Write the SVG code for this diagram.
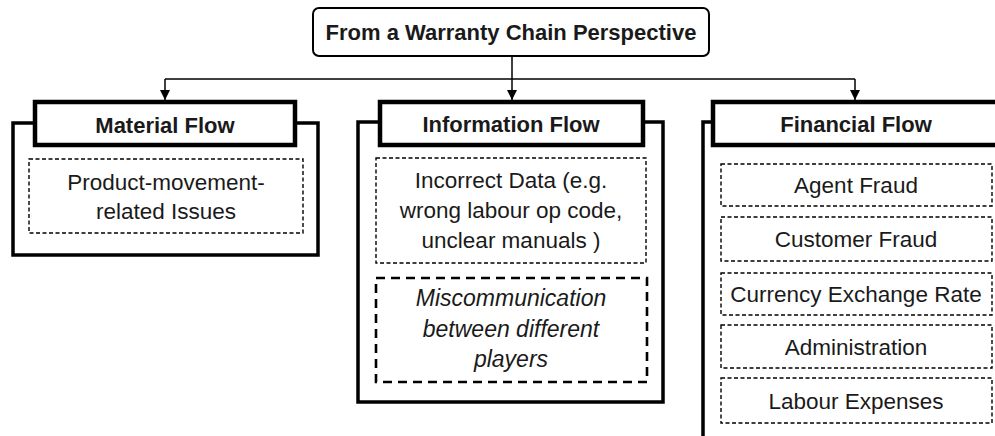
<svg xmlns="http://www.w3.org/2000/svg" width="995" height="436" viewBox="0 0 995 436">
<defs>
<style>
text{font-family:"Liberation Sans",Arial,sans-serif;fill:#1a1a1a;text-anchor:middle}
.h{font-weight:bold;font-size:22px}
.b{font-size:22.5px}
.i{font-size:23px;font-style:italic}
.outer{fill:#fff;stroke:#000;stroke-width:3.5}
.head{fill:#fff;stroke:#000;stroke-width:4.5}
.dash{fill:#fff;stroke:#000;stroke-width:1.4;stroke-dasharray:4 2.5}
.dash2{fill:#fff;stroke:#000;stroke-width:2.6;stroke-dasharray:9 6}
.con{fill:none;stroke:#000;stroke-width:1.5}
</style>
<marker id="ah" viewBox="0 0 10 10" refX="10" refY="5" markerWidth="10" markerHeight="10" markerUnits="userSpaceOnUse" orient="auto">
<path d="M0,0 L10,5 L0,10 Z" fill="#000"/>
</marker>
</defs>
<rect width="995" height="436" fill="#fff"/>
<g id="connectors">
<line class="con" x1="512" y1="56" x2="512" y2="100" marker-end="url(#ah)"/>
<line class="con" x1="165" y1="79" x2="855" y2="79"/>
<line class="con" x1="165" y1="79" x2="165" y2="100" marker-end="url(#ah)"/>
<line class="con" x1="855" y1="79" x2="855" y2="100" marker-end="url(#ah)"/>
</g>
<g id="title">
<rect x="313" y="8" width="396" height="48" rx="6" fill="#fff" stroke="#000" stroke-width="2"/>
<text class="h" x="511" y="40">From a Warranty Chain Perspective</text>
</g>
<g id="material">
<rect class="outer" x="13" y="123" width="305" height="132"/>
<rect class="head" x="35" y="102" width="260" height="43"/>
<text class="h" x="165" y="133">Material Flow</text>
<rect class="dash" x="29" y="159" width="274" height="74"/>
<text class="b" x="166" y="190">Product-movement-</text>
<text class="b" x="166" y="219">related Issues</text>
</g>
<g id="information">
<rect class="outer" x="358" y="122" width="305" height="280"/>
<rect class="head" x="380" y="102" width="263" height="43"/>
<text class="h" x="511" y="132">Information Flow</text>
<rect class="dash" x="376" y="158" width="270" height="105"/>
<text class="b" x="511" y="188">Incorrect Data (e.g.</text>
<text class="b" x="511" y="218">wrong labour op code,</text>
<text class="b" x="511" y="248">unclear manuals )</text>
<rect class="dash2" x="376" y="278" width="271" height="104"/>
<text class="i" x="511" y="306">Miscommunication</text>
<text class="i" x="511" y="337">between different</text>
<text class="i" x="511" y="367">players</text>
</g>
<g id="financial">
<rect class="outer" x="703" y="122" width="310" height="330"/>
<rect class="head" x="713" y="102" width="300" height="43"/>
<text class="h" x="856" y="132">Financial Flow</text>
<rect class="dash" x="721" y="164" width="271" height="42"/>
<text class="b" x="856" y="193">Agent Fraud</text>
<rect class="dash" x="721" y="217" width="271" height="44"/>
<text class="b" x="856" y="247">Customer Fraud</text>
<rect class="dash" x="721" y="273" width="271" height="42"/>
<text class="b" x="856" y="302">Currency Exchange Rate</text>
<rect class="dash" x="721" y="325" width="271" height="43"/>
<text class="b" x="856" y="355">Administration</text>
<rect class="dash" x="721" y="378" width="271" height="45"/>
<text class="b" x="856" y="409">Labour Expenses</text>
</g>
</svg>
